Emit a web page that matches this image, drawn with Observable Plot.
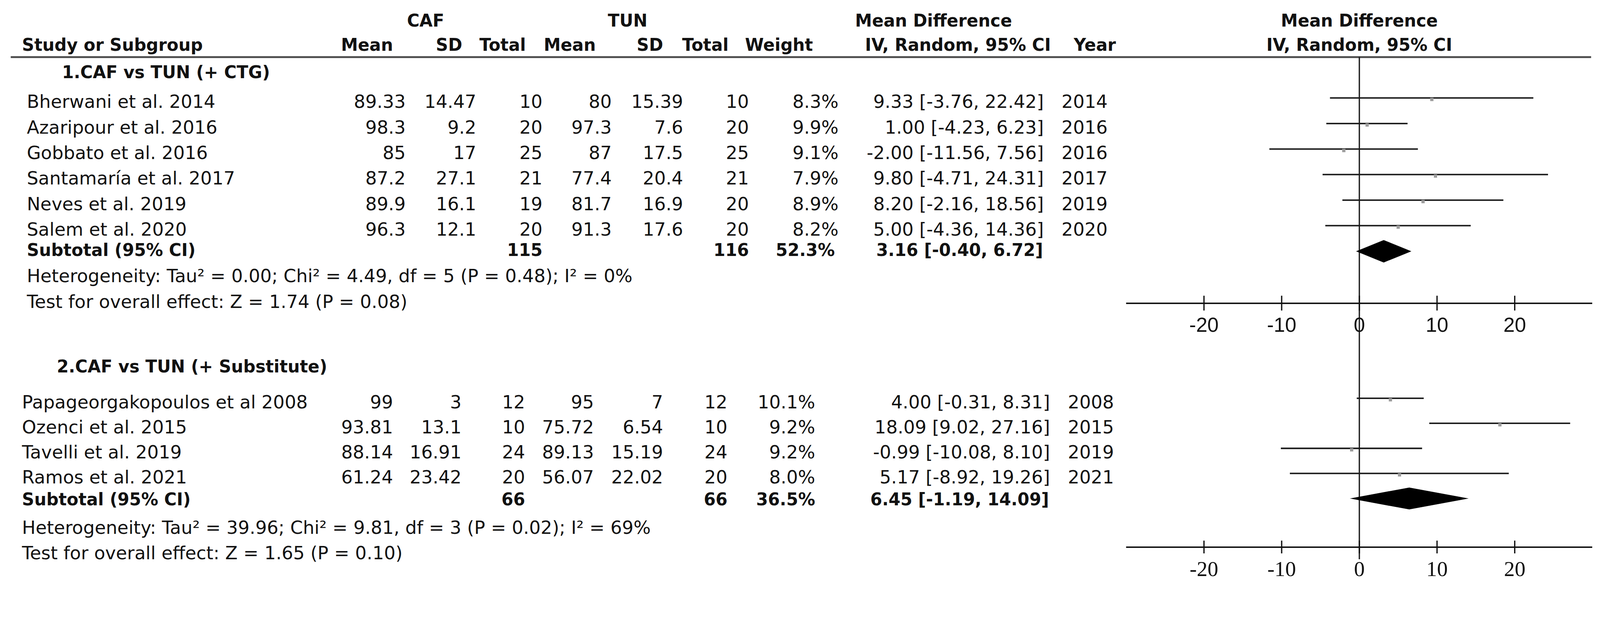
<!DOCTYPE html>
<html><head><meta charset="utf-8">
<script src="https://cdn.jsdelivr.net/npm/d3@7"></script>
<script src="https://cdn.jsdelivr.net/npm/@observablehq/plot@0.6"></script>
<style>html,body{margin:0;padding:0;background:#fff;} svg{display:block}</style>
</head><body><div id="chart"></div>
<script>
// ---------------- data ----------------
const groupLabels = ["1.CAF vs TUN (+ CTG)", "2.CAF vs TUN (+ Substitute)"];
const studies = ["Bherwani et al. 2014", "Azaripour et al. 2016", "Gobbato et al. 2016", "Santamaría et al. 2017", "Neves et al. 2019", "Salem et al. 2020",
                 "Papageorgakopoulos et al 2008", "Ozenci et al. 2015", "Tavelli et al. 2019", "Ramos et al. 2021"];
const studyGroup = [0, 0, 0, 0, 0, 0, 1, 1, 1, 1];
const cafMean = [89.33, 98.3, 85, 87.2, 89.9, 96.3, 99, 93.81, 88.14, 61.24];
const cafSD = [14.47, 9.2, 17, 27.1, 16.1, 12.1, 3, 13.1, 16.91, 23.42];
const cafTotal = [10, 20, 25, 21, 19, 20, 12, 10, 24, 20];
const tunMean = [80, 97.3, 87, 77.4, 81.7, 91.3, 95, 75.72, 89.13, 56.07];
const tunSD = [15.39, 7.6, 17.5, 20.4, 16.9, 17.6, 7, 6.54, 15.19, 22.02];
const tunTotal = [10, 20, 25, 21, 20, 20, 12, 10, 24, 20];
const weight = [8.3, 9.9, 9.1, 7.9, 8.9, 8.2, 10.1, 9.2, 9.2, 8.0];
const md = [9.33, 1.00, -2.00, 9.80, 8.20, 5.00, 4.00, 18.09, -0.99, 5.17];
const ciLow = [-3.76, -4.23, -11.56, -4.71, -2.16, -4.36, -0.31, 9.02, -10.08, -8.92];
const ciHigh = [22.42, 6.23, 7.56, 24.31, 18.56, 14.36, 8.31, 27.16, 8.10, 19.26];
const years = [2014, 2016, 2016, 2017, 2019, 2020, 2008, 2015, 2019, 2021];
const subCafTotal = [115, 66];
const subTunTotal = [116, 66];
const subWeight = [52.3, 36.5];
const subMD = [3.16, 6.45];
const subLow = [-0.40, -1.19];
const subHigh = [6.72, 14.09];
const tau2 = [0.00, 39.96];
const chi2 = [4.49, 9.81];
const hetDf = [5, 3];
const hetP = [0.48, 0.02];
const iSq = [0, 69];
const zValue = [1.74, 1.65];
const zP = [0.08, 0.10];
const xTicks = [-20, -10, 0, 10, 20];
const xDomain = [-30, 30];

// ---------------- layout ----------------
const W = 4325, H = 1589;
const frameL = 29, frameR = 4301;
const FONT = "DejaVu Sans";
const cols = [
  {name: 72, cafMean: 1096, cafSD: 1287, cafTotal: 1466, tunMean: 1653, tunSD: 1846, tunTotal: 2024, weight: 2266, subWeight: 2256, md: 2821, subMd: 2819, year: 2869, head: 167},
  {name: 59, cafMean: 1062, cafSD: 1247, cafTotal: 1419, tunMean: 1605, tunSD: 1792, tunTotal: 1966, weight: 2203, subWeight: 2203, md: 2838, subMd: 2835, year: 2886, head: 153}
];
const rowsL = [
  {head: 2.03, first: 3.19, step: 1.0, sub: 8.99, het: 10.01, test: 11.03, axis: 10.84, tickHalf: 0.29, label: 11.96, dia: 8.81, diaHalf: 0.44, axisFont: "Liberation Sans", axisSize: 55, headSpacing: "3px"},
  {head: 13.54, first: 14.95, step: 0.98, sub: 18.75, het: 19.87, test: 20.87, axis: 20.39, tickHalf: 0.25, label: 21.52, dia: 18.49, diaHalf: 0.43, axisFont: "Liberation Serif", axisSize: 58, headSpacing: "0px"}
];
const hdr = {line1: 0, line2: 0.96, rule: 1.2};
const ciOffset = -0.39;
const zeroTop = 1.2, zeroBottom = 20.87;

// ---------------- derived tables ----------------
const rows = studies.map((s, i) => {
  const g = studyGroup[i];
  const k = studyGroup.slice(0, i).filter(v => v === g).length;
  return {g, name: s, cafMean: cafMean[i], cafSD: cafSD[i], cafTotal: cafTotal[i], tunMean: tunMean[i], tunSD: tunSD[i], tunTotal: tunTotal[i],
    weight: weight[i], md: md[i], lo: ciLow[i], hi: ciHigh[i], year: years[i], row: rowsL[g].first + k * rowsL[g].step};
});
const subs = [0, 1].map(g => ({g, caf: subCafTotal[g], tun: subTunTotal[g], weight: subWeight[g], md: subMD[g], lo: subLow[g], hi: subHigh[g]}));
const fmtCI = (m, l, h) => `${m.toFixed(2)} [${l.toFixed(2)}, ${h.toFixed(2)}]`;

function txt(data, px, opts) {
  return Plot.text(data, {frameAnchor: "left", dx: px - frameL, lineAnchor: "bottom", fontFamily: FONT, fontSize: 49, fill: "#111", ...opts});
}

const marks = [];

// header
const headBold = {fontWeight: "bold", fontSize: 46};
marks.push(txt(["CAF"], 1150, {y: () => hdr.line1, text: d => d, textAnchor: "middle", ...headBold}));
marks.push(txt(["TUN"], 1696, {y: () => hdr.line1, text: d => d, textAnchor: "middle", ...headBold}));
marks.push(txt(["Mean Difference"], 2523, {y: () => hdr.line1, text: d => d, textAnchor: "middle", ...headBold}));
marks.push(txt(["Study or Subgroup"], 59, {y: () => hdr.line2, text: d => d, textAnchor: "start", ...headBold}));
const headCols = [["Mean", 1062, "end"], ["SD", 1249, "end"], ["Total", 1421, "end"], ["Mean", 1610, "end"], ["SD", 1792, "end"], ["Total", 1969, "end"],
                  ["Weight", 2197, "end"], ["IV, Random, 95% CI", 2840, "end"], ["Year", 2902, "start"]];
for (const [t, px, a] of headCols) marks.push(txt([t], px, {y: () => hdr.line2, text: d => d, textAnchor: a, ...headBold}));
marks.push(Plot.text(["Mean Difference"], {x: () => 0, y: () => hdr.line1, text: d => d, lineAnchor: "bottom", textAnchor: "middle", fontFamily: FONT, fill: "#111", ...headBold}));
marks.push(Plot.text(["IV, Random, 95% CI"], {x: () => 0, y: () => hdr.line2, text: d => d, lineAnchor: "bottom", textAnchor: "middle", fontFamily: FONT, fill: "#111", ...headBold}));
marks.push(Plot.ruleY([hdr.rule], {y: d => d, stroke: "#4a4a4a", strokeWidth: 5}));

// zero line
marks.push(Plot.ruleX([0], {x: d => d, y1: () => zeroTop, y2: () => zeroBottom, stroke: "#1a1a1a", strokeWidth: 3.5}));

for (const g of [0, 1]) {
  const c = cols[g], L = rowsL[g];
  const R = rows.filter(r => r.g === g);
  const S = subs.filter(s => s.g === g);
  // group heading
  marks.push(txt([groupLabels[g]], c.head, {y: () => L.head, text: d => d, textAnchor: "start", fontWeight: "bold", fontSize: 46, letterSpacing: L.headSpacing}));
  // study rows
  marks.push(txt(R, c.name, {y: "row", text: "name", textAnchor: "start"}));
  marks.push(txt(R, c.cafMean, {y: "row", text: d => String(d.cafMean), textAnchor: "end"}));
  marks.push(txt(R, c.cafSD, {y: "row", text: d => String(d.cafSD), textAnchor: "end"}));
  marks.push(txt(R, c.cafTotal, {y: "row", text: d => String(d.cafTotal), textAnchor: "end"}));
  marks.push(txt(R, c.tunMean, {y: "row", text: d => String(d.tunMean), textAnchor: "end"}));
  marks.push(txt(R, c.tunSD, {y: "row", text: d => String(d.tunSD), textAnchor: "end"}));
  marks.push(txt(R, c.tunTotal, {y: "row", text: d => String(d.tunTotal), textAnchor: "end"}));
  marks.push(txt(R, c.weight, {y: "row", text: d => d.weight.toFixed(1) + "%", textAnchor: "end"}));
  marks.push(txt(R, c.md, {y: "row", text: d => fmtCI(d.md, d.lo, d.hi), textAnchor: "end"}));
  marks.push(txt(R, c.year, {y: "row", text: d => String(d.year), textAnchor: "start"}));
  // subtotal
  const bold = {fontWeight: "bold", fontSize: 46};
  marks.push(txt(S, c.name, {y: () => L.sub, text: () => "Subtotal (95% CI)", textAnchor: "start", ...bold}));
  marks.push(txt(S, c.cafTotal, {y: () => L.sub, text: d => String(d.caf), textAnchor: "end", ...bold}));
  marks.push(txt(S, c.tunTotal, {y: () => L.sub, text: d => String(d.tun), textAnchor: "end", ...bold}));
  marks.push(txt(S, c.subWeight, {y: () => L.sub, text: d => d.weight.toFixed(1) + "%", textAnchor: "end", ...bold}));
  marks.push(txt(S, c.subMd, {y: () => L.sub, text: d => fmtCI(d.md, d.lo, d.hi), textAnchor: "end", ...bold}));
  // heterogeneity and overall effect
  marks.push(txt(S, c.name, {y: () => L.het, textAnchor: "start",
    text: () => `Heterogeneity: Tau² = ${tau2[g].toFixed(2)}; Chi² = ${chi2[g].toFixed(2)}, df = ${hetDf[g]} (P = ${hetP[g].toFixed(2)}); I² = ${iSq[g]}%`}));
  marks.push(txt(S, c.name, {y: () => L.test, textAnchor: "start",
    text: () => `Test for overall effect: Z = ${zValue[g].toFixed(2)} (P = ${zP[g].toFixed(2)})`}));
  // CI lines and point estimates
  marks.push(Plot.ruleY(R, {y: d => d.row + ciOffset, x1: "lo", x2: "hi", stroke: "#1a1a1a", strokeWidth: 4}));
  marks.push(Plot.dot(R, {x: "md", y: d => d.row + ciOffset, symbol: "square", r: 5, fill: "#9c9c9c", stroke: "none", dy: 4}));
  // diamond
  const dia = S.flatMap(s => [
    {y: L.dia - L.diaHalf, x1: s.md, x2: s.md},
    {y: L.dia, x1: s.lo, x2: s.hi},
    {y: L.dia + L.diaHalf, x1: s.md, x2: s.md}
  ]);
  marks.push(Plot.areaX(dia, {y: "y", x1: "x1", x2: "x2", fill: "#000", curve: "linear"}));
  // axis
  marks.push(Plot.ruleY([L.axis], {y: d => d, x1: () => xDomain[0], x2: () => xDomain[1], stroke: "#111", strokeWidth: 4}));
  marks.push(Plot.ruleX(xTicks, {x: d => d, y1: () => L.axis - L.tickHalf, y2: () => L.axis + L.tickHalf, stroke: "#111", strokeWidth: 3.5}));
  marks.push(Plot.text(xTicks, {x: d => d, y: () => L.label, text: d => String(d), lineAnchor: "bottom", textAnchor: "middle",
    fontFamily: L.axisFont, fontSize: L.axisSize, fill: "#111"}));
}

const chart = Plot.plot({
  width: W, height: H,
  marginLeft: frameL, marginRight: W - frameR, marginTop: 0, marginBottom: 0,
  x: {domain: xDomain, range: [3044, 4304], axis: null},
  y: {domain: [0, 22], range: [71, 1589], axis: null},
  style: {fontFamily: FONT, background: "#fff", overflow: "visible"},
  marks
});
document.getElementById("chart").appendChild(chart);
</script>
</body></html>
